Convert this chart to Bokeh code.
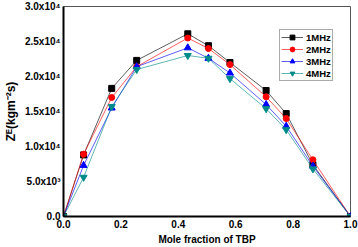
from bokeh.plotting import figure
from bokeh.models import Range1d, FixedTicker, Legend, LegendItem
from bokeh.embed import file_html
from bokeh.resources import INLINE

x_frac = [0.0, 0.07, 0.168, 0.255, 0.433, 0.505, 0.58, 0.706, 0.776, 0.869, 1.0]
z_1mhz = [0, 8800, 18300, 22300, 26100, 24400, 22000, 18000, 14700, 7400, 0]
z_2mhz = [0, 8900, 17000, 21400, 25500, 24000, 21700, 17100, 14000, 8100, 0]
z_3mhz = [0, 7300, 15500, 21400, 24100, 22600, 20500, 16000, 12900, 7200, 0]
z_4mhz = [0, 5600, 15700, 21000, 23000, 22600, 19700, 15400, 12400, 6800, 0]
series_names = ["1MHz", "2MHz", "3MHz", "4MHz"]
y_ticks = [0, 5000, 10000, 15000, 20000, 25000, 30000]
y_tick_labels = ["0.0", "5.0x10³", "1.0x10⁴", "1.5x10⁴", "2.0x10⁴", "2.5x10⁴", "3.0x10⁴"]
x_ticks = [0.0, 0.2, 0.4, 0.6, 0.8, 1.0]
x_tick_labels = ["0.0", "0.2", "0.4", "0.6", "0.8", "1.0"]

FONT = "Liberation Sans"

p = figure(width=358, height=247, output_backend="svg", toolbar_location=None,
           x_range=Range1d(0, 1), y_range=Range1d(0, 30000),
           min_border_left=63, min_border_right=8, min_border_top=6, min_border_bottom=31)
p.background_fill_color = "white"
p.border_fill_color = "white"
p.xgrid.visible = False
p.ygrid.visible = False
p.outline_line_color = "#555555"
p.outline_line_width = 1

for ax in (p.xaxis[0], p.yaxis[0]):
    ax.axis_line_color = "black"
    ax.axis_line_width = 2
    ax.major_tick_out = 0
    ax.major_tick_in = 0
    ax.minor_tick_out = 0
    ax.minor_tick_in = 0
    ax.major_label_text_font = FONT
    ax.major_label_text_font_style = "bold"
    ax.major_label_text_font_size = "10px"
    ax.major_label_text_color = "black"
    ax.axis_label_text_font = FONT
    ax.axis_label_text_font_style = "bold"
    ax.axis_label_text_font_size = "10px"
    ax.axis_label_text_color = "black"

p.xaxis[0].ticker = FixedTicker(ticks=x_ticks)
p.xaxis[0].major_label_overrides = {t: l for t, l in zip(x_ticks, x_tick_labels)}
p.xaxis[0].major_label_standoff = 3
p.xaxis[0].axis_label = "Mole fraction of TBP"
p.xaxis[0].axis_label_standoff = 3

p.yaxis[0].ticker = FixedTicker(ticks=y_ticks)
p.yaxis[0].major_label_overrides = {t: l for t, l in zip(y_ticks, y_tick_labels)}
p.yaxis[0].major_label_standoff = 3
p.yaxis[0].axis_label = "Zᴱ(kgm⁻²s)"
p.yaxis[0].axis_label_text_font_size = "12px"
p.yaxis[0].axis_label_standoff = 4

specs = [
    (z_1mhz, "black", "square", 6),
    (z_2mhz, "#ff0000", "circle", 6),
    (z_3mhz, "#0000ff", "triangle", 7),
    (z_4mhz, "#008b8b", "inverted_triangle", 7),
]
items = []
for name, (ys, color, marker, size) in zip(series_names, specs):
    ln = p.line(x_frac, ys, line_color=color, line_width=0.8, line_alpha=0.8)
    sc = p.scatter(x_frac, ys, marker=marker, size=size, fill_color=color, line_color=color)
    items.append(LegendItem(label=name, renderers=[ln, sc]))

legend = Legend(items=items, location=(216, 135))
legend.label_text_font = FONT
legend.label_text_font_style = "bold"
legend.label_text_font_size = "9.5px"
legend.label_text_color = "black"
legend.glyph_width = 22
legend.glyph_height = 12
legend.label_height = 12
legend.label_standoff = 3
legend.spacing = 0
legend.padding = 1
legend.margin = 0
legend.border_line_color = "#555555"
legend.border_line_width = 1
legend.background_fill_alpha = 1
p.add_layout(legend)

open("out.html", "w").write(file_html(p, INLINE))
